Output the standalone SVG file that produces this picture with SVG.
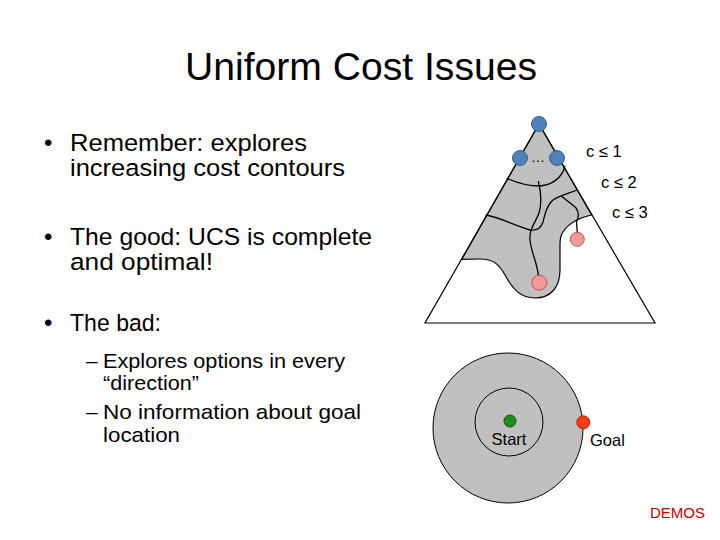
<svg xmlns="http://www.w3.org/2000/svg" width="720" height="540" viewBox="0 0 720 540">
<style>
text{font-family:"Liberation Sans",Arial,sans-serif;fill:#000}
.title{font-size:39px}
.b1{font-size:24.5px}
.dot{font-size:24px}
.b2{font-size:21px}
.lbl{font-size:16.5px}
.ln{fill:none;stroke:#000;stroke-width:1.3}
.blue{fill:#4f81bd;stroke:#385d8a;stroke-width:1}
.pink{fill:#f29a9a;stroke:#b85555;stroke-width:1}
.gray{fill:#c0c0c0;stroke:#000;stroke-width:1.2}
</style>
<rect width="720" height="540" fill="#fff"/>
<text class="title" x="185" y="80" textLength="352" lengthAdjust="spacingAndGlyphs">Uniform Cost Issues</text>
<g id="bullets">
<text class="dot" x="44" y="151">•</text>
<text class="b1" x="70" y="151" textLength="237" lengthAdjust="spacingAndGlyphs">Remember: explores</text>
<text class="b1" x="70" y="176" textLength="275" lengthAdjust="spacingAndGlyphs">increasing cost contours</text>
<text class="dot" x="44" y="245">•</text>
<text class="b1" x="70" y="245" textLength="302" lengthAdjust="spacingAndGlyphs">The good: UCS is complete</text>
<text class="b1" x="70" y="270" textLength="143" lengthAdjust="spacingAndGlyphs">and optimal!</text>
<text class="dot" x="44" y="331">•</text>
<text class="b1" x="70" y="331" textLength="91" lengthAdjust="spacingAndGlyphs">The bad:</text>
<text class="b2" x="86" y="368">–</text>
<text class="b2" x="103" y="368" textLength="242" lengthAdjust="spacingAndGlyphs">Explores options in every</text>
<text class="b2" x="103" y="390" textLength="96" lengthAdjust="spacingAndGlyphs">“direction”</text>
<text class="b2" x="86" y="419">–</text>
<text class="b2" x="103" y="419" textLength="258" lengthAdjust="spacingAndGlyphs">No information about goal</text>
<text class="b2" x="103" y="442" textLength="77" lengthAdjust="spacingAndGlyphs">location</text>
</g>
<g id="triangle">
<path class="gray" d="M539,124 L591.7,215 C578,218 568,224 563,232 C560,236 560,240 560,244 L560,270 C560,288 550,298 535,298 C520,298 512,288 505,275 C499,264 493,259 480,259 L461.7,259.3 Z"/>
<path fill="none" stroke="#000" stroke-width="1.2" d="M539,124 L425,323 L655,323 Z"/>
</g>
<g id="connectors">
<path class="ln" d="M506.7,178.3 C515,182 528,186 540,186 C552,185 562,178 565,166"/>
<path class="ln" d="M538.3,181 C541,192 542,203 539,213 C536,222 529,228 530,240 C531,252 537,262 538.5,276"/>
<path class="ln" d="M485.5,215 C500,217 515,226 530,230 C537,231 541,228 543,222 C545,214 547,205 553,200 C560,195 570,193 577,190"/>
<path class="ln" d="M561.7,196.5 C566,200 572,204 576,208 C579,212 579,218 576.5,221.7 L577.3,233"/>
</g>
<g id="node-top"><circle class="blue" cx="539" cy="124" r="7.5"/></g>
<g id="node-left"><circle class="blue" cx="520" cy="158" r="7.5"/></g>
<g id="node-right"><circle class="blue" cx="557" cy="158" r="7.5"/></g>
<text x="538" y="162" font-size="14" text-anchor="middle">…</text>
<g id="node-pink1"><circle class="pink" cx="577.3" cy="239.3" r="7"/></g>
<g id="node-pink2"><circle class="pink" cx="539.3" cy="282.7" r="7.5"/></g>
<g id="contour-labels">
<text class="lbl" x="586" y="157">c ≤ 1</text>
<text class="lbl" x="601" y="188">c ≤ 2</text>
<text class="lbl" x="612" y="218">c ≤ 3</text>
</g>
<g id="circles">
<circle cx="508" cy="428" r="75" fill="#c0c0c0" stroke="#000" stroke-width="1"/>
<circle cx="509" cy="422" r="34" fill="#c0c0c0" stroke="#000" stroke-width="1"/>
</g>
<g id="node-start"><circle cx="510" cy="421" r="6" fill="#1e8c1e" stroke="#0b5a0b" stroke-width="1"/>
<text class="lbl" x="509" y="445" font-size="15" text-anchor="middle">Start</text></g>
<g id="node-goal"><circle cx="583.3" cy="422.3" r="6.5" fill="#ff3c14" stroke="#c02000" stroke-width="1"/>
<text class="lbl" x="590" y="446" font-size="15">Goal</text></g>
<text x="650" y="518" font-size="15" fill="#c00000" style="fill:#c00000">DEMOS</text>
</svg>
